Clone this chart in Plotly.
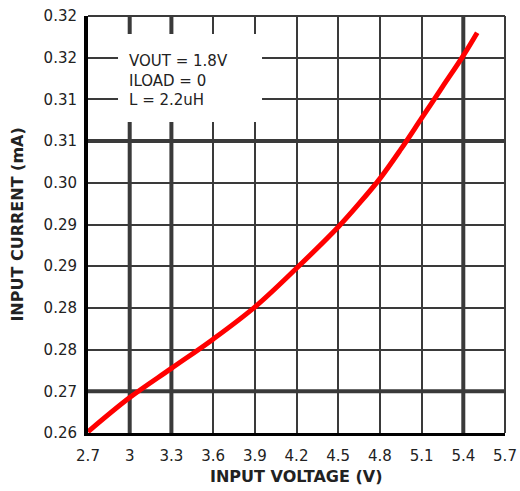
import plotly.graph_objects as go

# Data
voltage = [2.7, 3.0, 3.3, 3.6, 3.9, 4.2, 4.5, 4.65, 4.8, 4.95, 5.1, 5.25, 5.4, 5.5]
current = [0.26018, 0.26510, 0.26930, 0.27350, 0.27812, 0.28370, 0.28964,
           0.29300, 0.29660, 0.30080, 0.30530, 0.30980, 0.31430, 0.31760]

x_ticks = [2.7, 3.0, 3.3, 3.6, 3.9, 4.2, 4.5, 4.8, 5.1, 5.4, 5.7]
x_ticktext = ["2.7", "3", "3.3", "3.6", "3.9", "4.2", "4.5", "4.8", "5.1", "5.4", "5.7"]
y_ticks = [0.26, 0.266, 0.272, 0.278, 0.284, 0.29, 0.296, 0.302, 0.308, 0.314, 0.32]
y_ticktext = ["0.26", "0.27", "0.28", "0.28", "0.29", "0.29", "0.30", "0.31", "0.31", "0.32", "0.32"]
thick_x = [3.0, 3.3, 5.4]
thick_y = [0.266, 0.302]
notes = ["VOUT = 1.8V", "ILOAD = 0", "L = 2.2uH"]
x_title = "INPUT VOLTAGE (V)"
y_title = "INPUT CURRENT (mA)"

FONT = "DejaVu Sans, Verdana, sans-serif"
GRID = "#3a3a3a"
TXT = "#222222"

fig = go.Figure()
fig.add_trace(go.Scatter(x=voltage, y=current, mode="lines",
                         line=dict(color="#ff0000", width=5, shape="spline", smoothing=1.0),
                         hoverinfo="skip", showlegend=False))

shapes = []
for xv in thick_x:
    shapes.append(dict(type="line", xref="x", yref="paper", x0=xv, x1=xv, y0=0, y1=1,
                       line=dict(color=GRID, width=4), layer="below"))
for yv in thick_y:
    shapes.append(dict(type="line", xref="paper", yref="y", x0=0, x1=1, y0=yv, y1=yv,
                       line=dict(color=GRID, width=4), layer="below"))
# frame top / right
shapes.append(dict(type="line", xref="paper", yref="paper", x0=0, x1=1, y0=1, y1=1,
                   line=dict(color=GRID, width=2), layer="below"))
shapes.append(dict(type="line", xref="paper", yref="paper", x0=1, x1=1, y0=0, y1=1,
                   line=dict(color=GRID, width=2), layer="below"))
# white box behind the notes
shapes.append(dict(type="rect", xref="x", yref="y", x0=2.916, x1=3.952, y0=0.30476, y1=0.31742,
                   fillcolor="white", line=dict(width=0), layer="above"))

fig.update_layout(
    width=520, height=491,
    margin=dict(l=88, r=15, t=16, b=58),
    paper_bgcolor="white", plot_bgcolor="white",
    font=dict(family=FONT, size=16, color=TXT),
    shapes=shapes,
    xaxis=dict(range=[2.7, 5.7], tickvals=x_ticks, ticktext=x_ticktext,
               showgrid=True, gridcolor=GRID, gridwidth=2, zeroline=False,
               showline=True, linecolor="black", linewidth=3, ticks="",
               ticklabelstandoff=7, automargin=False,
               tickfont=dict(size=15, color=TXT, family=FONT)),
    yaxis=dict(range=[0.26, 0.32], tickvals=y_ticks, ticktext=y_ticktext,
               showgrid=True, gridcolor=GRID, gridwidth=2, zeroline=False,
               showline=True, linecolor="black", linewidth=4, ticks="",
               ticklabelstandoff=4, automargin=False,
               tickfont=dict(size=15, color=TXT, family=FONT)),
)

fig.add_annotation(xref="paper", yref="paper", x=0.501, y=-0.1055, xanchor="center", yanchor="middle",
                   text="<b>" + x_title + "</b>", showarrow=False,
                   font=dict(size=16, color=TXT, family=FONT))
fig.add_annotation(xref="paper", yref="paper", x=-0.170, y=0.50, xanchor="center", yanchor="middle",
                   text="<b>" + y_title + "</b>", showarrow=False, textangle=-90,
                   font=dict(size=16, color=TXT, family=FONT))
fig.add_annotation(xref="x", yref="y", x=2.98, y=0.31079, xanchor="left", yanchor="middle",
                   text="<br>".join(notes), showarrow=False, align="left",
                   font=dict(size=15, color=TXT, family=FONT))

fig.write_html("out.html")
